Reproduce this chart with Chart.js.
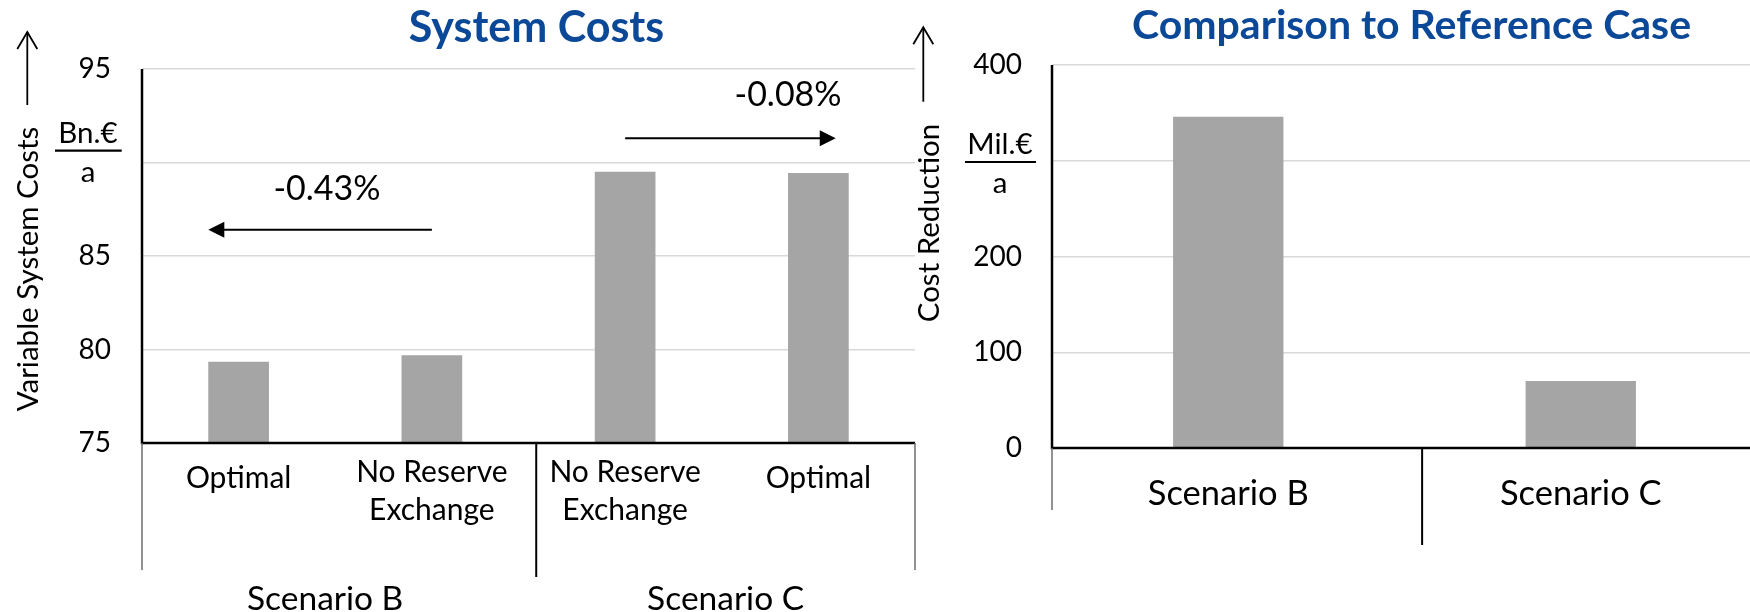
<!DOCTYPE html>
<html>
<head>
<meta charset="utf-8">
<script src="https://cdn.jsdelivr.net/npm/chart.js@4.4.1/dist/chart.umd.min.js"></script>
<style>
  html, body { margin: 0; padding: 0; background: #fff; width: 1750px; height: 612px; overflow: hidden; }
  #wrap { position: relative; width: 1750px; height: 612px; overflow: hidden; }
  canvas { position: absolute; top: 0; }
  #costs { left: 0; }
  #reduction { left: 890px; }
</style>
</head>
<body>
<div id="wrap">
  <canvas id="costs" width="930" height="612"></canvas>
  <canvas id="reduction" width="870" height="612"></canvas>
</div>
<script>
// ---- data ----------------------------------------------------------------
const costCategories = [['Optimal'], ['No Reserve', 'Exchange'], ['No Reserve', 'Exchange'], ['Optimal']];
const costGroups = ['Scenario B', 'Scenario C'];
const costValues = [79.35, 79.69, 89.51, 89.44];          // Bn.€ / a
const costTicks = [75, 80, 85, 90, 95];

const reductionCategories = ['Scenario B', 'Scenario C'];
const reductionValues = [346, 70];                         // Mil.€ / a
const reductionTicks = [0, 100, 200, 300, 400];

// ---- styling -------------------------------------------------------------
const FONT = 'Lato, "Open Sans", sans-serif';
const BLUE = '#0b4897';
const BAR = '#a5a5a5';
const GRID = '#d9d9d9';

function drawText(ctx, str, x, y, size, o = {}) {
  ctx.save();
  ctx.font = `${o.weight || 'normal'} ${size}px ${FONT}`;
  ctx.fillStyle = o.color || '#000';
  ctx.textAlign = o.align || 'center';
  ctx.textBaseline = 'alphabetic';
  ctx.fillText(str, x, y);
  ctx.restore();
}
function line(ctx, x0, y0, x1, y1, w, color) {
  ctx.save();
  ctx.strokeStyle = color;
  ctx.lineWidth = w;
  ctx.beginPath();
  ctx.moveTo(x0, y0);
  ctx.lineTo(x1, y1);
  ctx.stroke();
  ctx.restore();
}
// thin vertical arrow with an open head, placed next to an axis title
function upArrow(ctx, x, yBottom, yTop) {
  line(ctx, x, yBottom, x, yTop, 1.8, '#000');
  ctx.save();
  ctx.strokeStyle = '#000';
  ctx.lineWidth = 1.8;
  ctx.beginPath();
  ctx.moveTo(x - 10, yTop + 17);
  ctx.lineTo(x, yTop);
  ctx.lineTo(x + 10, yTop + 17);
  ctx.stroke();
  ctx.restore();
}
// horizontal arrow with a filled head at x1
function hArrow(ctx, x0, x1, y) {
  const dir = Math.sign(x1 - x0);
  line(ctx, x0, y, x1 - dir * 10, y, 2, '#000');
  ctx.save();
  ctx.fillStyle = '#000';
  ctx.beginPath();
  ctx.moveTo(x1, y);
  ctx.lineTo(x1 - dir * 16, y - 8);
  ctx.lineTo(x1 - dir * 16, y + 8);
  ctx.closePath();
  ctx.fill();
  ctx.restore();
}
function pctChange(from, to) {
  return ((to - from) / from * 100).toFixed(2) + '%';
}

// ---- decoration plugin: axes, brackets, labels, titles -------------------
const decor = {
  id: 'decor',
  afterDatasetsDraw(chart, args, o) {
    const ctx = chart.ctx;
    const a = chart.chartArea;
    const xs = chart.scales.x;
    const ys = chart.scales.y;

    // axis lines
    line(ctx, a.left, a.top, a.left, a.bottom + 1.25, 2.5, '#000');
    line(ctx, a.left, a.bottom, a.right, a.bottom, 2.5, '#000');

    // category bracket lines below the axis
    line(ctx, a.left, a.bottom, a.left, o.bracket.outerBottom, 1.5, '#6d6d6d');
    if (o.bracket.right) line(ctx, a.right, a.bottom, a.right, o.bracket.outerBottom, 1.5, '#6d6d6d');
    const sepX = xs.getPixelForValue(o.bracket.sepAt);
    line(ctx, sepX, a.bottom, sepX, o.bracket.sepBottom, 2, '#000');

    // category labels
    o.categories.forEach((lines, i) => {
      const x = xs.getPixelForValue(i);
      const base = lines.length > 1 ? o.catMulti : o.catSingle;
      lines.forEach((t, k) => drawText(ctx, t, x, base + k * o.catLineHeight, o.catSize));
    });

    // group labels under their bracket
    if (o.groups) {
      const spans = [[a.left, sepX], [sepX, a.right]];
      o.groups.forEach((g, i) => drawText(ctx, g, (spans[i][0] + spans[i][1]) / 2 + o.groupDx[i],
        o.groupBaseline, o.groupSize));
    }

    // chart title
    drawText(ctx, o.title.text, (a.left + a.right) / 2 + o.title.dx, o.title.baseline, o.title.size,
      { weight: 'bold', color: BLUE });

    // rotated axis title with arrow
    ctx.save();
    ctx.translate(o.axisTitle.x, o.axisTitle.cy);
    ctx.rotate(-Math.PI / 2);
    drawText(ctx, o.axisTitle.text, 0, 0, o.axisTitle.size);
    ctx.restore();
    upArrow(ctx, o.axisTitle.arrowX, o.axisTitle.arrowBottom, o.axisTitle.arrowTop);

    // unit as a fraction
    const u = o.unit;
    drawText(ctx, u.num, u.cx, u.numBaseline, u.size);
    line(ctx, u.x0, u.lineY, u.x1, u.lineY, 2.2, '#000');
    drawText(ctx, u.den, u.cx, u.denBaseline, u.size);

    // change annotations between bars
    (o.changes || []).forEach(c => {
      const meta = chart.getDatasetMeta(0).data;
      const txt = pctChange(costValues[c.from], costValues[c.to]);
      drawText(ctx, txt, xs.getPixelForValue(c.textAt), ys.getPixelForValue(c.textValue), c.size);
      const y = ys.getPixelForValue(c.arrowValue);
      const x0 = meta[c.from].x;
      const x1 = xs.getPixelForValue(c.tipAt);
      hArrow(ctx, x0, x1, y);
    });
  }
};

// ---- left chart: system costs --------------------------------------------
new Chart(document.getElementById('costs'), {
  type: 'bar',
  plugins: [decor],
  data: {
    labels: costCategories.map(l => l.join(' ')),
    datasets: [{
      data: costValues,
      backgroundColor: BAR,
      barPercentage: 0.314,
      categoryPercentage: 1
    }]
  },
  options: {
    responsive: false,
    animation: false,
    devicePixelRatio: 1,
    layout: { padding: { top: 69, right: 15, bottom: 169, left: 0 } },
    plugins: {
      legend: { display: false },
      tooltip: { enabled: false },
      decor: {
        categories: costCategories,
        catSize: 30, catSingle: 488, catMulti: 482, catLineHeight: 38,
        groups: costGroups, groupSize: 33.5, groupBaseline: 610, groupDx: [-14, 0],
        bracket: { outerBottom: 570, sepAt: 1.54, sepBottom: 577, right: true },
        title: { text: 'System Costs', dx: 8, baseline: 42, size: 43 },
        axisTitle: { text: 'Variable System Costs', x: 37.7, cy: 269, size: 29.5,
                     arrowX: 27.3, arrowBottom: 105, arrowTop: 32 },
        unit: { num: 'Bn.€', den: 'a', cx: 88, numBaseline: 142.7, denBaseline: 181.7,
                lineY: 150.7, x0: 55, x1: 121.7, size: 29.5 },
        changes: [
          { from: 1, to: 0, tipAt: -0.157, arrowValue: 86.4, textAt: 0.457, textValue: 88.0, size: 34 },
          { from: 2, to: 3, tipAt: 3.09, arrowValue: 91.3, textAt: 2.843, textValue: 93.0, size: 34 }
        ]
      }
    },
    scales: {
      x: { display: false },
      y: {
        min: costTicks[0],
        max: costTicks[costTicks.length - 1],
        afterBuildTicks: s => { s.ticks = costTicks.map(v => ({ value: v })); },
        afterFit: s => { s.width = 142; },
        ticks: {
          callback: v => (v === 90 ? '' : v),
          font: { family: FONT, size: 28 },
          color: '#000',
          padding: 31
        },
        grid: { color: GRID, lineWidth: 1.5, drawTicks: false },
        border: { display: false }
      }
    }
  }
});

// ---- right chart: cost reduction vs reference ----------------------------
new Chart(document.getElementById('reduction'), {
  type: 'bar',
  plugins: [decor],
  data: {
    labels: reductionCategories,
    datasets: [{
      data: reductionValues,
      backgroundColor: BAR,
      barPercentage: 0.313,
      categoryPercentage: 1
    }]
  },
  options: {
    responsive: false,
    animation: false,
    devicePixelRatio: 1,
    layout: { padding: { top: 65, right: 3, bottom: 164, left: 0 } },
    plugins: {
      legend: { display: false },
      tooltip: { enabled: false },
      decor: {
        categories: reductionCategories.map(c => [c]),
        catSize: 34.5, catSingle: 505, catMulti: 505, catLineHeight: 38,
        bracket: { outerBottom: 510, sepAt: 0.55, sepBottom: 545, right: false },
        title: { text: 'Comparison to Reference Case', dx: 7, baseline: 39, size: 41 },
        axisTitle: { text: 'Cost Reduction', x: 49.3, cy: 223, size: 29.5,
                     arrowX: 33.3, arrowBottom: 101.7, arrowTop: 27.3 },
        unit: { num: 'Mil.€', den: 'a', cx: 110, numBaseline: 154, denBaseline: 192.7,
                lineY: 162, x0: 75, x1: 146, size: 29.5 }
      }
    },
    scales: {
      x: { display: false },
      y: {
        min: reductionTicks[0],
        max: reductionTicks[reductionTicks.length - 1],
        afterBuildTicks: s => { s.ticks = reductionTicks.map(v => ({ value: v })); },
        afterFit: s => { s.width = 162; },
        ticks: {
          callback: v => (v === 300 ? '' : v),
          font: { family: FONT, size: 28 },
          color: '#000',
          padding: 30
        },
        grid: { color: GRID, lineWidth: 1.5, drawTicks: false },
        border: { display: false }
      }
    }
  }
});
</script>
</body>
</html>
